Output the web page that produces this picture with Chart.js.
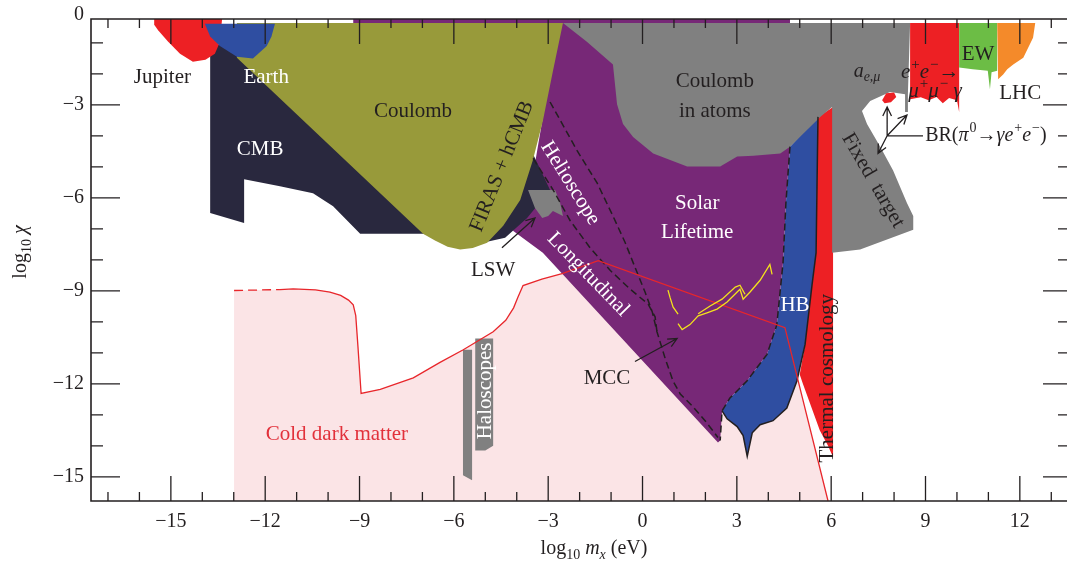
<!DOCTYPE html>
<html>
<head>
<meta charset="utf-8">
<script src="https://cdn.jsdelivr.net/npm/chart.js@4.4.1/dist/chart.umd.min.js"></script>
<style>
  html, body { margin: 0; padding: 0; background: #fff; }
  #wrap { width: 1067px; height: 569px; }
</style>
</head>
<body>
<div id="wrap"><canvas id="c"></canvas></div>
<script>
// axis ticks
const xTicks = [-15, -12, -9, -6, -3, 0, 3, 6, 9, 12];
const yTicks = [-15, -12, -9, -6, -3];

// region boundaries, [log10 m_x (eV), log10 chi]
const coldDarkMatterDashed = [[-12.99, -8.99], [-11.53, -8.96]];
const coldDarkMatter = [[-11.53, -8.96], [-11.11, -8.94], [-10.4, -8.97], [-9.94, -9.04], [-9.6, -9.15], [-9.35, -9.30], [-9.2, -9.45], [-9.12, -9.8], [-9.05, -10.8], [-8.95, -12.31], [-8.34, -12.18], [-7.29, -11.81], [-6.44, -11.31], [-5.70, -10.90], [-4.75, -10.32], [-4.35, -9.95], [-4.10, -9.55], [-3.96, -9.20], [-3.80, -8.83], [-3.2, -8.62], [-2.53, -8.44], [-1.41, -8.03], [4.53, -10.19], [5.90, -15.78]];
const jupiter = [[-15.53, -0.23], [-13.37, -0.23], [-13.45, -1.0], [-13.6, -1.35], [-13.9, -1.55], [-14.30, -1.61], [-14.71, -1.35], [-15.1, -0.95], [-15.4, -0.6], [-15.53, -0.42]];
const earth = [[-13.92, -0.39], [-11.69, -0.39], [-11.80, -0.80], [-11.95, -1.10], [-12.39, -1.51], [-12.90, -1.45], [-13.44, -1.10], [-13.75, -0.80]];
const cmb = [[-13.75, -1.06], [-12.90, -1.06], [-3.49, -4.57], [-2.94, -5.75], [-3.67, -6.65], [-4.37, -7.29], [-5.48, -7.54], [-6.98, -7.16], [-8.98, -7.16], [-9.84, -6.27], [-10.48, -5.85], [-11.53, -5.63], [-12.67, -5.40], [-12.67, -6.81], [-13.75, -6.49]];
const coulomb = [[-12.90, -0.36], [-2.53, -0.36], [-2.85, -1.92], [-3.17, -3.52], [-3.49, -4.80], [-3.89, -6.07], [-4.43, -6.90], [-4.94, -7.45], [-5.40, -7.62], [-5.80, -7.67], [-6.20, -7.58], [-6.60, -7.38], [-6.98, -7.16], [-12.90, -1.48]];
const solarLifetime = [[-9.20, -0.23], [4.69, -0.23], [4.69, -4.35], [4.56, -6.17], [4.47, -8.08], [4.27, -10.10], [3.96, -11.05], [3.32, -11.91], [2.78, -12.46], [2.53, -12.87], [2.47, -13.83], [2.40, -13.89], [-3.17, -7.77], [-4.12, -7.06], [-3.58, -5.85], [-3.10, -2.98], [-2.62, -0.36], [-9.20, -0.36]];
const coulombAtoms = [[-2.53, -0.36], [-1.77, -0.97], [-0.94, -1.70], [-0.81, -2.98], [-0.62, -3.62], [-0.30, -4.04], [0.34, -4.57], [1.42, -4.99], [2.47, -4.99], [3.01, -4.67], [3.52, -4.64], [4.38, -4.57], [4.69, -4.35], [5.65, -3.39], [6.03, -3.07], [6.03, -7.77], [6.92, -7.67], [8.61, -7.03], [8.61, -6.59], [8.41, -6.17], [7.97, -5.12], [7.56, -4.35], [7.14, -3.62], [6.98, -3.20], [7.24, -2.88], [7.87, -2.59], [8.35, -2.66], [8.35, -3.23], [8.44, -3.23], [8.44, -2.66], [8.51, -0.36]];
const hb = [[4.69, -4.35], [5.58, -3.39], [5.52, -7.77], [5.39, -8.82], [5.17, -10.73], [4.91, -11.91], [4.59, -12.78], [4.15, -13.19], [3.74, -13.32], [3.49, -13.58], [3.33, -14.34], [3.20, -13.67], [3.01, -13.38], [2.69, -13.13], [2.53, -12.87], [2.78, -12.46], [3.32, -11.91], [3.96, -11.05], [4.27, -10.10], [4.47, -8.08], [4.56, -6.17]];
const hbEdge = [[2.53, -12.87], [2.69, -13.13], [3.01, -13.38], [3.20, -13.67], [3.33, -14.34], [3.49, -13.58], [3.74, -13.32], [4.15, -13.19], [4.59, -12.78], [4.91, -11.91], [5.17, -10.73], [5.39, -8.82], [5.52, -7.77], [5.58, -3.39]];
const thermal = [[5.58, -3.39], [6.06, -3.07], [6.06, -14.37], [5.90, -14.0], [5.64, -13.51], [5.10, -12.0], [5.00, -11.7], [5.17, -10.73], [5.39, -8.82], [5.52, -7.77]];
const lsw = [[-3.64, -5.75], [-2.78, -5.75], [-2.62, -6.17], [-2.53, -6.59], [-2.85, -6.43], [-3.00, -6.59], [-3.19, -6.65], [-3.42, -6.33]];
const haloscopeA = [[-5.71, -10.90], [-5.42, -10.90], [-5.42, -15.11], [-5.71, -14.95]];
const haloscopeB = [[-5.32, -10.54], [-4.75, -10.54], [-4.75, -14.0], [-5.0, -14.15], [-5.32, -14.15]];
const eeToMuMu = [[8.51, -0.36], [10.07, -0.36], [10.07, -3.23], [10.0, -2.85], [9.75, -2.78], [9.55, -2.95], [9.35, -2.75], [9.1, -2.85], [8.85, -2.76], [8.51, -2.82]];
const pionBlob = [[7.62, -2.85], [7.75, -2.63], [8.0, -2.6], [8.07, -2.75], [7.9, -2.92], [7.7, -2.95]];
const ew = [[10.07, -0.36], [11.28, -0.36], [11.28, -1.9], [11.1, -1.95], [11.05, -2.5], [10.98, -1.9], [10.5, -1.85], [10.07, -1.8]];
const lhc = [[11.28, -0.36], [12.49, -0.36], [12.42, -0.84], [12.11, -1.48], [11.79, -1.70], [11.6, -1.85], [11.47, -2.02], [11.31, -2.18]];
const helioUpper = [[-2.94, -2.91], [-2.08, -4.48], [-1.44, -5.53], [-0.94, -6.59], [-0.55, -7.45], [-0.24, -8.24], [0.08, -9.04], [0.31, -9.68], [0.46, -10.32], [0.72, -11.18], [0.97, -11.91], [1.20, -12.33], [1.58, -12.71], [1.99, -13.19], [2.40, -13.73]];
const helioLower = [[-3.48, -4.73], [-2.84, -5.75], [-2.30, -6.74], [-1.67, -7.61], [-1.03, -8.34], [-0.39, -8.95], [0.18, -9.43], [0.40, -9.84], [0.46, -10.32]];
const solarEdge = [[4.69, -4.35], [4.56, -6.17], [4.47, -8.08], [4.27, -10.10], [3.96, -11.05], [3.32, -11.91], [2.78, -12.46], [2.53, -12.87], [2.47, -13.83]];
const mccA = [[0.81, -8.98], [0.88, -9.23], [0.97, -9.52], [1.13, -9.75]];
const mccB = [[1.13, -10.06], [1.26, -10.25], [1.51, -10.09], [1.77, -9.81], [2.05, -9.71], [2.37, -9.59], [2.69, -9.36], [3.01, -9.04], [3.10, -8.95], [3.20, -9.27], [3.42, -9.04], [3.74, -8.66], [4.05, -8.15], [4.12, -8.47]];
const mccC = [[1.77, -9.74], [2.15, -9.49], [2.53, -9.27], [2.95, -8.88], [3.10, -8.82], [3.26, -9.11]];

const X_MIN = -17.54, X_MAX = 13.5, Y_MIN = -15.78, Y_MAX = -0.233;
const SERIF = '"Liberation Serif", "DejaVu Serif", serif';
const INK = '#231f20';

const pts = arr => arr.map(p => ({ x: p[0], y: p[1] }));
function area(arr, color) {
  return { data: pts(arr.concat([arr[0]])), showLine: true, fill: 'shape', backgroundColor: color,
    borderColor: 'rgba(0,0,0,0)', borderWidth: 0, pointRadius: 0, tension: 0 };
}
function line(arr, color, width, dash) {
  return { data: pts(arr), showLine: true, fill: false, borderColor: color, borderWidth: width,
    borderDash: dash || [], pointRadius: 0, tension: 0 };
}

const cdmFill = coldDarkMatterDashed.concat(coldDarkMatter).concat([[5.90, -16.5], [-12.99, -16.5]]);

// bottom to top
const layers = [
  area(cdmFill, '#fbe4e6'),
  area(thermal, '#ed2024'),
  area(hb, '#2f4ea1'),
  area(solarLifetime, '#772877'),
  area(coulombAtoms, '#808080'),
  area(cmb, '#29283e'),
  area(coulomb, '#989a3a'),
  area(jupiter, '#ed2024'),
  area(earth, '#2f4ea1'),
  area(lsw, '#808080'),
  area(haloscopeA, '#808080'),
  area(haloscopeB, '#808080'),
  area(eeToMuMu, '#ed2024'),
  area(pionBlob, '#ed2024'),
  area(ew, '#6cbd45'),
  area(lhc, '#f48a2a'),
  line(helioUpper, INK, 1.5, [7, 4]),
  line(helioLower, INK, 1.5, [7, 4]),
  line(solarEdge, INK, 1.5, [7, 4]),
  line(hbEdge, INK, 1.5),
  line(coldDarkMatterDashed, '#e8262b', 1.3, [9, 5]),
  line(coldDarkMatter, '#e8262b', 1.3),
  line(mccA, '#f3e21c', 1.3),
  line(mccB, '#f3e21c', 1.3),
  line(mccC, '#f3e21c', 1.3)
];
const datasets = layers.map((d, i) => Object.assign(d, { order: layers.length - i }));

// annotation text: [text, x, y, colour, rotation(deg)]
const labels = [
  ['Jupiter', -15.27, -2.12, INK, 0],
  ['Earth', -11.97, -2.12, '#fff', 0],
  ['CMB', -12.16, -4.45, '#fff', 0],
  ['Coulomb', -7.30, -3.23, INK, 0],
  ['FIRAS + hCMB', -4.47, -4.99, INK, -68],
  ['Coulomb', 2.30, -2.24, INK, 0],
  ['in atoms', 2.30, -3.20, INK, 0],
  ['Helioscope', -2.30, -5.53, '#fff', 58],
  ['Solar', 1.74, -6.17, '#fff', 0],
  ['Lifetime', 1.74, -7.13, '#fff', 0],
  ['Longitudinal', -1.73, -8.47, '#fff', 46],
  ['LSW', -4.75, -8.34, INK, 0],
  ['MCC', -1.13, -11.82, INK, 0],
  ['HB', 4.85, -9.46, '#fff', 0],
  ['Thermal cosmology', 5.87, -11.82, INK, -90],
  ['Cold dark matter', -9.72, -13.64, '#e2313b', 0],
  ['Haloscopes', -5.01, -12.23, '#fff', -90],
  ['Fixed  target', 7.33, -5.44, INK, 60],
  ['EW', 10.67, -1.38, INK, 0],
  ['LHC', 12.01, -2.63, INK, 0]
];
const arrows = [
  [[-4.47, -7.61], [-3.42, -6.65]],
  [[-0.24, -11.28], [1.10, -10.54]],
  [[7.78, -4.00], [7.78, -3.07]],
  [[7.78, -4.00], [8.41, -3.33]],
  [[7.78, -4.00], [7.49, -4.57]]
];

// rich text: segments {t, it, sup, sub}
function fontFor(s, size) {
  const sz = (s.sup || s.sub) ? Math.round(size * 0.72) : size;
  return (s.it ? 'italic ' : '') + sz + 'px ' + SERIF;
}
function drawRich(ctx, segs, x, y, size, align) {
  let w = 0;
  segs.forEach(s => { ctx.font = fontFor(s, size); w += ctx.measureText(s.t).width + (s.sup ? 1 : 0); });
  let cx = align === 'left' ? x : x - w / 2;
  ctx.textBaseline = 'middle';
  ctx.textAlign = 'left';
  segs.forEach(s => {
    ctx.font = fontFor(s, size);
    const dy = s.sup ? -size * 0.36 : (s.sub ? size * 0.3 : 0);
    if (s.sup) cx += 1;
    ctx.fillText(s.t, cx, y + dy);
    cx += ctx.measureText(s.t).width;
  });
}

const decor = {
  id: 'decor',
  afterDatasetsDraw(chart) {
    const ctx = chart.ctx, xs = chart.scales.x, ys = chart.scales.y, a = chart.chartArea;
    const X = v => xs.getPixelForValue(v), Y = v => ys.getPixelForValue(v);
    ctx.save();
    // frame (left, top, bottom) and inward ticks
    ctx.strokeStyle = INK;
    ctx.lineWidth = 1.6;
    ctx.beginPath();
    ctx.moveTo(a.right, a.top); ctx.lineTo(a.left, a.top);
    ctx.lineTo(a.left, a.bottom); ctx.lineTo(a.right, a.bottom);
    ctx.stroke();
    ctx.lineWidth = 1.3;
    ctx.beginPath();
    for (let v = -17; v <= 13; v++) {
      const L = v % 3 === 0 ? 25 : 9, px = X(v);
      ctx.moveTo(px, a.bottom); ctx.lineTo(px, a.bottom - L);
      ctx.moveTo(px, a.top); ctx.lineTo(px, a.top + L);
    }
    for (let v = -15; v <= -1; v++) {
      const py = Y(v);
      ctx.moveTo(a.left, py); ctx.lineTo(a.left + (v % 3 === 0 ? 29 : 12), py);
      ctx.moveTo(a.right, py); ctx.lineTo(a.right - (v % 3 === 0 ? 24 : 9), py);
    }
    ctx.stroke();

    // region labels
    labels.forEach(([t, x, y, c, rot]) => {
      ctx.save();
      ctx.translate(X(x), Y(y));
      ctx.rotate(rot * Math.PI / 180);
      ctx.fillStyle = c;
      ctx.font = '21px ' + SERIF;
      ctx.textAlign = 'center';
      ctx.textBaseline = 'middle';
      ctx.fillText(t, 0, 0);
      ctx.restore();
    });
    ctx.fillStyle = INK;
    drawRich(ctx, [{ t: 'a', it: 1 }, { t: 'e,μ', it: 1, sub: 1 }], X(7.14), Y(-1.92), 20, 'center');
    drawRich(ctx, [{ t: 'e', it: 1 }, { t: '+', sup: 1 }, { t: 'e', it: 1 }, { t: '−', sup: 1 }, { t: '→' }], X(9.15), Y(-1.96), 21, 'center');
    drawRich(ctx, [{ t: 'μ', it: 1 }, { t: '+', sup: 1 }, { t: 'μ', it: 1 }, { t: '−', sup: 1 }, { t: ' γ', it: 1 }], X(9.30), Y(-2.56), 21, 'center');
    drawRich(ctx, [{ t: 'BR(' }, { t: 'π', it: 1 }, { t: '0', sup: 1 }, { t: '→' }, { t: 'γe', it: 1 }, { t: '+', sup: 1 }, { t: 'e', it: 1 }, { t: '−', sup: 1 }, { t: ')' }], X(8.99), Y(-4.0), 20, 'left');

    // arrows
    ctx.strokeStyle = INK;
    ctx.lineWidth = 1.3;
    ctx.beginPath();
    ctx.moveTo(X(7.78), Y(-4.0)); ctx.lineTo(X(8.92), Y(-4.0));
    arrows.forEach(([p, q]) => {
      const x1 = X(p[0]), y1 = Y(p[1]), x2 = X(q[0]), y2 = Y(q[1]);
      const ang = Math.atan2(y2 - y1, x2 - x1), h = 10;
      ctx.moveTo(x1, y1); ctx.lineTo(x2, y2);
      ctx.moveTo(x2 - h * Math.cos(ang - 0.45), y2 - h * Math.sin(ang - 0.45));
      ctx.lineTo(x2, y2);
      ctx.lineTo(x2 - h * Math.cos(ang + 0.45), y2 - h * Math.sin(ang + 0.45));
    });
    ctx.stroke();

    // tick label at 0 (just above plot top) and axis titles
    ctx.fillStyle = INK;
    ctx.font = '20px ' + SERIF;
    ctx.textAlign = 'right';
    ctx.textBaseline = 'middle';
    ctx.fillText('0', a.left - 7, Y(0) + 3);
    drawRich(ctx, [{ t: 'log' }, { t: '10', sub: 1 }, { t: ' ' }, { t: 'm', it: 1 }, { t: 'x', it: 1, sub: 1 }, { t: ' (eV)' }], 594, 549, 20, 'center');
    ctx.save();
    ctx.translate(21, 252);
    ctx.rotate(-Math.PI / 2);
    drawRich(ctx, [{ t: 'log' }, { t: '10', sub: 1 }, { t: ' ' }, { t: 'χ', it: 1 }], 0, 0, 20, 'center');
    ctx.restore();
    ctx.restore();
  }
};

const fmt = v => (v < 0 ? '−' + Math.abs(v) : String(v));

new Chart(document.getElementById('c'), {
  type: 'scatter',
  data: { datasets },
  options: {
    responsive: true,
    maintainAspectRatio: false,
    animation: false,
    layout: { padding: { top: 14, right: 0, left: 0, bottom: 0 } },
    plugins: { legend: { display: false }, tooltip: { enabled: false } },
    scales: {
      x: {
        type: 'linear', min: X_MIN, max: X_MAX,
        grid: { display: false, drawTicks: false }, border: { display: false },
        afterBuildTicks: s => { s.ticks = xTicks.map(v => ({ value: v })); },
        afterFit: s => { s.height = 68; },
        ticks: { callback: fmt, padding: 9, maxRotation: 0, autoSkip: false, color: INK, font: { family: SERIF, size: 20 } }
      },
      y: {
        type: 'linear', min: Y_MIN, max: Y_MAX,
        grid: { display: false, drawTicks: false }, border: { display: false },
        afterBuildTicks: s => { s.ticks = yTicks.map(v => ({ value: v })); },
        afterFit: s => { s.width = 91; },
        ticks: { callback: fmt, padding: 7, autoSkip: false, color: INK, font: { family: SERIF, size: 20 } }
      }
    }
  },
  plugins: [decor]
});
</script>
</body>
</html>
